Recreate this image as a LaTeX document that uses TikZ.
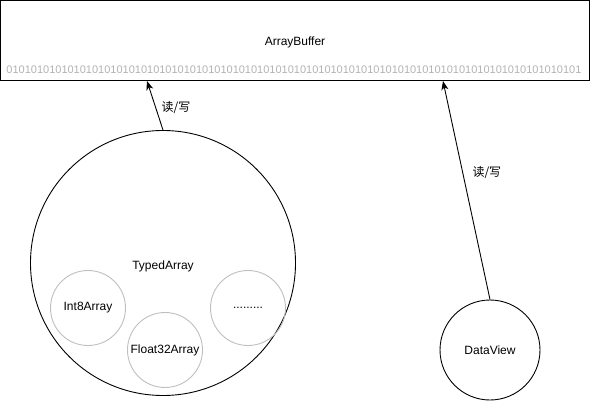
\documentclass[tikz,border=0pt]{standalone}
\usepackage{fontspec}
\setmainfont{Liberation Sans}
\newfontfamily\cjk{Noto Sans CJK SC}
\usetikzlibrary{arrows.meta}

\begin{document}
\begin{tikzpicture}[x=1pt, y=-1pt, line width=0.9pt, >={Stealth[length=9pt, width=7pt, inset=2.5pt]},
		every node/.style={font=\fontsize{12}{14}\selectfont},
		n/.style={circle, draw, inner sep=0pt},
		sub/.style={circle, draw=black!25, inner sep=0pt, minimum size=75pt}]
			\useasboundingbox (0,0) rectangle (591,401);
			\node[draw, inner sep=0pt, minimum width=589pt, minimum height=80pt] (buf) at (295,40.5) {};
			\node (bufname) at (295,42) {ArrayBuffer};
			\node[text=black!30, font=\fontsize{11}{13}\selectfont] (bits) at (294,70) {0101010101010101010101010101010101010101010101010101010101010101010101010101010101010101010101};

			\node[n, minimum size=265pt] (ta) at (163,263) {};
			\node (taname) at (163,266) {TypedArray};
			\node[sub] (i8) at (88,308) {Int8Array};
			\node[sub] (f32) at (165,350) {Float32Array};
			\node[sub] (more) at (248,308) {.........};

			\node[n, minimum size=100pt] (dv) at (490,350) {DataView};

			\coordinate (hit1) at (147,81);
			\coordinate (hit2) at (443,81);

			\draw[->] (ta.north) -- node[pos=0.45, right=2pt] {\cjk 读/写} (hit1);
			\draw[->] (dv.north) -- node[pos=0.58, right=6pt] {\cjk 读/写} (hit2);
		\end{tikzpicture}
\end{document}
